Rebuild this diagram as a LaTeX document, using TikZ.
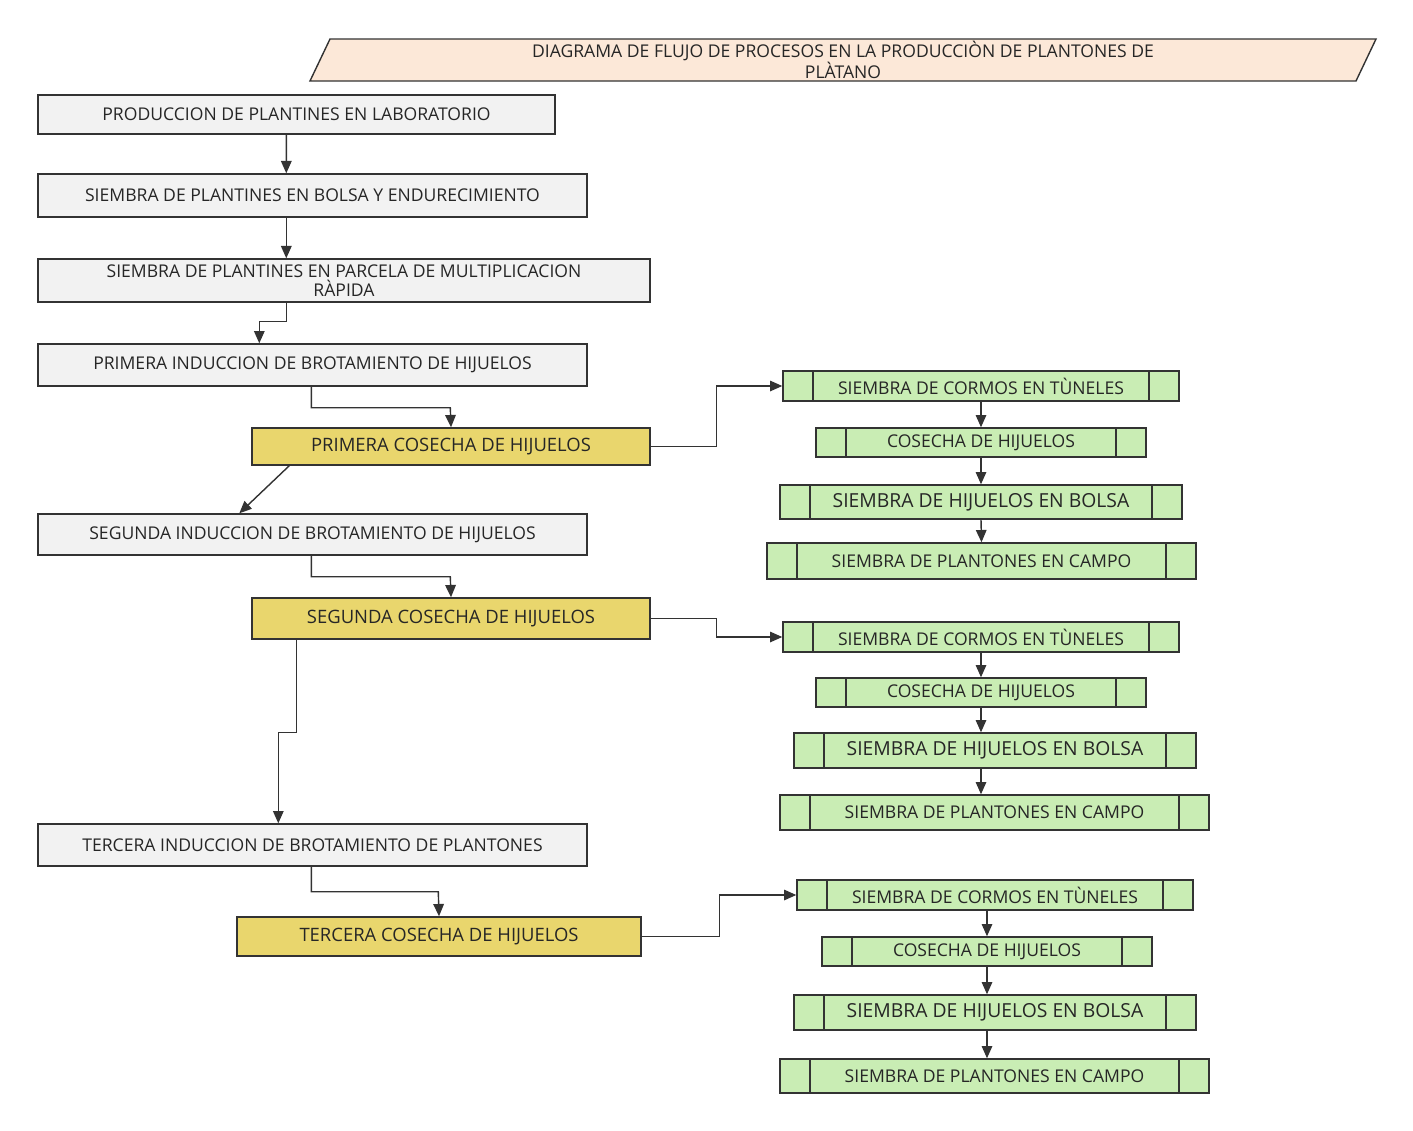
\documentclass[tikz,border=0pt]{standalone}
\usepackage{fontspec}
\setmainfont{Open Sans}
\usetikzlibrary{arrows.meta,calc}
\definecolor{boxgray}{HTML}{F2F2F2}
\definecolor{boxyellow}{HTML}{E9D66D}
\definecolor{boxgreen}{HTML}{C9EDB4}
\definecolor{titlefill}{HTML}{FCE8D8}
\definecolor{linegray}{HTML}{333333}
\tikzset{
  stepgray/.style={draw=linegray, thick, fill=boxgray, inner sep=0pt, align=center,
    font=\fontsize{10}{11}\selectfont, text=black!85},
  stepyellow/.style={stepgray, fill=boxyellow, font=\fontsize{10.5}{12}\selectfont},
  stepgreen/.style={stepgray, fill=boxgreen, font=\fontsize{10}{11}\selectfont,
    path picture={
      \draw[linegray, thick] ([xshift=0.6cm]path picture bounding box.north west) -- ([xshift=0.6cm]path picture bounding box.south west);
      \draw[linegray, thick] ([xshift=-0.6cm]path picture bounding box.north east) -- ([xshift=-0.6cm]path picture bounding box.south east);}},
  arr/.style={-{Triangle[length=7pt,width=6pt]}, thick, draw=linegray}
}
\begin{document}
\begin{tikzpicture}
	\useasboundingbox (0,0) rectangle (28.26,-22.6);
	% title
	\draw[linegray, thick, fill=titlefill] (6.6,-0.78) -- (27.52,-0.78) -- (27.12,-1.62) -- (6.2,-1.62) -- cycle;
	\node[align=center, font=\fontsize{10}{11}\selectfont, text=black!85] (title) at (16.86,-1.2) {DIAGRAMA DE FLUJO DE PROCESOS EN LA PRODUCCIÒN DE PLANTONES DE\\PLÀTANO};
	% main chain
	\node[stepgray, minimum width=10.34cm, minimum height=0.78cm] (lab) at (5.93,-2.29) {PRODUCCION DE PLANTINES EN LABORATORIO};
	\node[stepgray, minimum width=10.98cm, minimum height=0.86cm] (bolsa) at (6.25,-3.91) {SIEMBRA DE PLANTINES EN BOLSA Y ENDURECIMIENTO};
	\node[stepgray, minimum width=12.24cm, minimum height=0.86cm] (parcela) at (6.88,-5.61) {SIEMBRA DE PLANTINES EN PARCELA DE MULTIPLICACION\\RÀPIDA};
	\node[stepgray, minimum width=10.98cm, minimum height=0.84cm] (ind1) at (6.25,-7.3) {PRIMERA INDUCCION DE BROTAMIENTO DE HIJUELOS};
	\node[stepyellow, minimum width=7.96cm, minimum height=0.74cm] (cos1) at (9.02,-8.93) {PRIMERA COSECHA DE HIJUELOS};
	\node[stepgray, minimum width=10.98cm, minimum height=0.82cm] (ind2) at (6.25,-10.69) {SEGUNDA INDUCCION DE BROTAMIENTO DE HIJUELOS};
	\node[stepyellow, minimum width=7.96cm, minimum height=0.82cm] (cos2) at (9.02,-12.37) {SEGUNDA COSECHA DE HIJUELOS};
	\node[stepgray, minimum width=10.98cm, minimum height=0.84cm] (ind3) at (6.25,-16.9) {TERCERA INDUCCION DE BROTAMIENTO DE PLANTONES};
	\node[stepyellow, minimum width=8.08cm, minimum height=0.78cm] (cos3) at (8.78,-18.73) {TERCERA COSECHA DE HIJUELOS};
	% first group
	\node[stepgreen, minimum width=7.92cm, minimum height=0.6cm] (tunel1) at (19.62,-7.72) {SIEMBRA DE CORMOS EN TÙNELES};
	\node[stepgreen, minimum width=6.6cm, minimum height=0.58cm] (hij1) at (19.62,-8.85) {COSECHA DE HIJUELOS};
	\node[stepgreen, minimum width=8.04cm, minimum height=0.68cm, font=\fontsize{11}{12}\selectfont] (bol1) at (19.62,-10.04) {SIEMBRA DE HIJUELOS EN BOLSA};
	\node[stepgreen, minimum width=8.58cm, minimum height=0.72cm] (campo1) at (19.63,-11.22) {SIEMBRA DE PLANTONES EN CAMPO};
	% second group
	\node[stepgreen, minimum width=7.92cm, minimum height=0.6cm] (tunel2) at (19.62,-12.74) {SIEMBRA DE CORMOS EN TÙNELES};
	\node[stepgreen, minimum width=6.6cm, minimum height=0.58cm] (hij2) at (19.62,-13.85) {COSECHA DE HIJUELOS};
	\node[stepgreen, minimum width=8.04cm, minimum height=0.7cm, font=\fontsize{11}{12}\selectfont] (bol2) at (19.9,-15.01) {SIEMBRA DE HIJUELOS EN BOLSA};
	\node[stepgreen, minimum width=8.58cm, minimum height=0.7cm] (campo2) at (19.89,-16.25) {SIEMBRA DE PLANTONES EN CAMPO};
	% third group
	\node[stepgreen, minimum width=7.92cm, minimum height=0.6cm] (tunel3) at (19.9,-17.9) {SIEMBRA DE CORMOS EN TÙNELES};
	\node[stepgreen, minimum width=6.6cm, minimum height=0.58cm] (hij3) at (19.74,-19.03) {COSECHA DE HIJUELOS};
	\node[stepgreen, minimum width=8.04cm, minimum height=0.7cm, font=\fontsize{11}{12}\selectfont] (bol3) at (19.9,-20.25) {SIEMBRA DE HIJUELOS EN BOLSA};
	\node[stepgreen, minimum width=8.58cm, minimum height=0.68cm] (campo3) at (19.89,-21.52) {SIEMBRA DE PLANTONES EN CAMPO};
	% main connectors
	\draw[arr] ($(lab.south west)+(4.98,0)$) -- ($(bolsa.north west)+(4.98,0)$);
	\draw[arr] ($(bolsa.south west)+(4.98,0)$) -- ($(parcela.north west)+(4.98,0)$);
	\draw[arr] ($(parcela.south west)+(4.98,0)$) -- ++(0,-0.38) -| ($(ind1.north west)+(4.44,0)$);
	\draw[arr] ($(ind1.south west)+(5.48,0)$) |- ++(2.78,-0.42) -- (cos1.north);
	\draw[arr] ($(cos1.south west)+(0.76,0)$) -- ($(ind2.north west)+(4.04,0)$);
	\draw[arr] ($(ind2.south west)+(5.48,0)$) |- ++(2.78,-0.42) -- (cos2.north);
	\draw[arr] ($(cos2.south west)+(0.9,0)$) -- ++(0,-1.86) -| ($(ind3.north west)+(4.82,0)$);
	\draw[arr] ($(ind3.south west)+(5.48,0)$) |- ++(2.54,-0.5) -- (cos3.north);
	% side connectors
	\draw[arr] (cos1.east) -- ++(1.32,0) |- (tunel1.west);
	\draw[arr] (cos2.east) -- ++(1.32,0) |- (tunel2.west);
	\draw[arr] (cos3.east) -- ++(1.56,0) |- (tunel3.west);
	% green chains
	\draw[arr] (tunel1.south) -- (hij1.north);
	\draw[arr] (hij1.south) -- (bol1.north);
	\draw[arr] (bol1.south) -- (campo1.north);
	\draw[arr] (tunel2.south -| hij2.north) -- (hij2.north);
	\draw[arr] (hij2.south) -- (hij2.south |- bol2.north);
	\draw[arr] (hij2.south |- bol2.south) -- (hij2.south |- campo2.north);
	\draw[arr] (tunel3.south -| hij3.north) -- (hij3.north);
	\draw[arr] (hij3.south) -- (hij3.south |- bol3.north);
	\draw[arr] (hij3.south |- bol3.south) -- (hij3.south |- campo3.north);
\end{tikzpicture}
\end{document}
